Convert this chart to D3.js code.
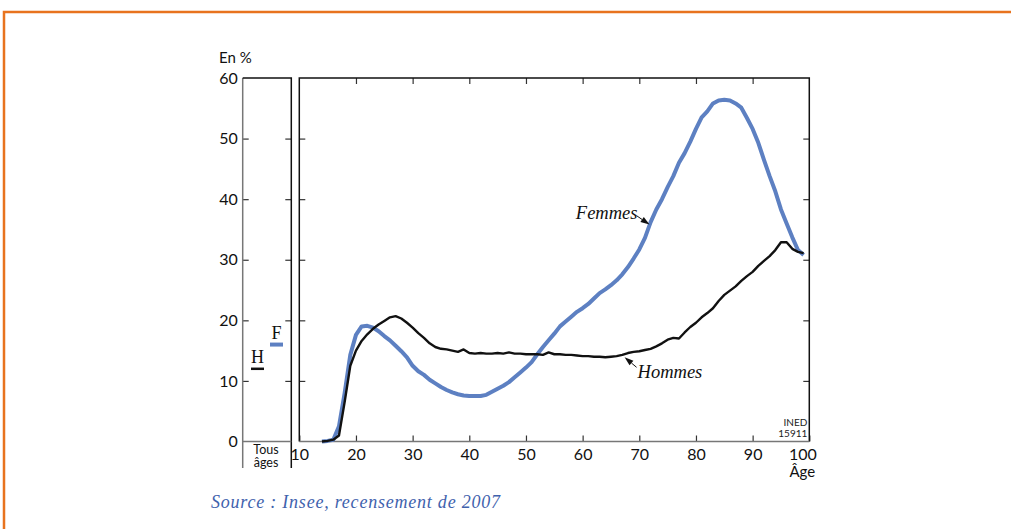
<!DOCTYPE html>
<html>
<head>
<meta charset="utf-8">
<script src="https://cdn.jsdelivr.net/npm/d3@7"></script>
<style>
  body { margin: 0; background: #fff; }
  svg { display: block; }
  .sans { font-family: "Lato", "DejaVu Sans", sans-serif; }
  .serif { font-family: "Liberation Serif", "DejaVu Serif", serif; }
</style>
</head>
<body>
<script>
// ages 14..99
const ages = d3.range(14, 100);

const femmes = [0, 0.1, 0.3, 2.5, 8, 14.3, 17.6, 19.0, 19.1, 18.8,
  18.2, 17.4, 16.7, 15.8, 14.9, 13.9, 12.5, 11.6, 11.0, 10.2,
  9.6, 9.0, 8.5, 8.1, 7.8, 7.6, 7.5, 7.5, 7.5, 7.7,
  8.2, 8.7, 9.2, 9.8, 10.6, 11.4, 12.2, 13.1, 14.4, 15.6,
  16.7, 17.8, 19.0, 19.8, 20.6, 21.4, 22.0, 22.7, 23.6, 24.5,
  25.1, 25.8, 26.6, 27.6, 28.8, 30.2, 31.7, 33.6, 36.2, 38.3,
  40.0, 42.0, 43.8, 46.0, 47.6, 49.5, 51.6, 53.5, 54.5, 55.8,
  56.3, 56.4, 56.3, 55.8, 55.1, 53.4, 51.6, 49.3, 46.5, 43.8,
  41.3, 38.3, 36.0, 33.7, 31.6, 30.8];

const hommes = [0, 0.1, 0.3, 1.0, 6.5, 12.5, 15.0, 16.6, 17.7, 18.6,
  19.3, 19.9, 20.5, 20.7, 20.3, 19.6, 18.8, 17.9, 17.1, 16.2,
  15.6, 15.3, 15.2, 15.0, 14.8, 15.2, 14.6, 14.5, 14.6, 14.5,
  14.5, 14.6, 14.5, 14.7, 14.5, 14.5, 14.4, 14.4, 14.4, 14.3,
  14.7, 14.4, 14.4, 14.3, 14.3, 14.2, 14.1, 14.1, 14.0, 14.0,
  13.9, 14.0, 14.1, 14.3, 14.6, 14.8, 14.9, 15.1, 15.3, 15.7,
  16.2, 16.8, 17.1, 17.0, 18.0, 18.9, 19.6, 20.5, 21.2, 22.0,
  23.2, 24.2, 24.9, 25.6, 26.5, 27.3, 28.0, 29.0, 29.8, 30.6,
  31.6, 32.9, 32.9, 31.8, 31.3, 31.1];

// "Tous âges" values
const allAgesKeys = ["H", "F"];
const allAgesValues = [12, 16];

const xTicks = [10, 20, 30, 40, 50, 60, 70, 80, 90, 100];
const yTicks = [0, 10, 20, 30, 40, 50, 60];

const blue = "#5d80c2";

const svg = d3.select("body").append("svg")
  .attr("width", 1011)
  .attr("height", 529);

// orange frame
svg.append("path")
  .attr("d", "M4,529 V12 H1011")
  .attr("fill", "none")
  .attr("stroke", "#e8731e")
  .attr("stroke-width", 2.5);

const x = d3.scaleLinear().domain([10, 100]).range([299.3, 809.3]);
const y = d3.scaleLinear().domain([0, 60]).range([441.5, 78]);
const leftL = 242.7, leftR = 291.3;

// main axes with inward ticks
const gb = svg.append("g").attr("class", "sans")
  .attr("transform", `translate(0,${y(0)})`)
  .call(d3.axisBottom(x).tickValues(xTicks).tickSize(-6).tickPadding(7));
gb.selectAll("text").attr("dx", d => d === 100 ? -7 : 0);

svg.append("g")
  .attr("transform", `translate(0,${y(60)})`)
  .call(d3.axisTop(x).tickValues(xTicks.slice(1, -1)).tickSize(-6).tickFormat(""));

svg.append("g")
  .attr("transform", `translate(${x(10)},0)`)
  .call(d3.axisLeft(y).tickValues(yTicks.slice(1, -1)).tickSize(-6).tickFormat(""));

svg.append("g")
  .attr("transform", `translate(${x(100)},0)`)
  .call(d3.axisRight(y).tickValues(yTicks.slice(1, -1)).tickSize(-6).tickFormat(""));

// left panel (Tous âges)
const gll = svg.append("g").attr("class", "sans")
  .attr("transform", `translate(${leftL},0)`)
  .call(d3.axisLeft(y).tickValues(yTicks).tickSize(-6).tickPadding(5)
    .tickFormat(d3.format("d")));
gll.selectAll(".tick line").filter(d => d === 0 || d === 60).remove();

svg.append("g")
  .attr("transform", `translate(${leftR},0)`)
  .call(d3.axisRight(y).tickValues(yTicks.slice(1, -1)).tickSize(-6).tickFormat(""));

svg.selectAll(".domain").remove();
svg.selectAll(".tick line").attr("stroke", "#333").attr("stroke-width", 1.2);
svg.selectAll(".tick text").attr("font-size", 16).attr("fill", "#111");

// frame lines
const frame = svg.append("g").attr("fill", "none").attr("stroke-width", 1.5);
frame.append("path").attr("stroke", "#111")
  .attr("d", `M${x(10)},${y(0)} V${y(60)} H${x(100)} V${y(0)}`);
frame.append("path").attr("stroke", "#777")
  .attr("d", `M${x(10)},${y(0)} H${x(100)}`);
frame.append("path").attr("stroke", "#777")
  .attr("d", `M${leftL},468 V${y(60)}`);
frame.append("path").attr("stroke", "#111")
  .attr("d", `M${leftL},${y(60)} H${leftR} V468`);
frame.append("path").attr("stroke", "#777")
  .attr("d", `M${leftL},${y(0)} H${leftR}`);

// labels
svg.append("text").attr("class", "sans")
  .attr("x", 219).attr("y", 63).attr("font-size", 15).attr("fill", "#111")
  .text("En %");
svg.append("text").attr("class", "sans")
  .attr("x", x(100) - 7).attr("y", 477).attr("text-anchor", "middle")
  .attr("font-size", 15).attr("fill", "#111")
  .text("Âge");
svg.append("text").attr("class", "sans")
  .attr("x", 266).attr("y", 454).attr("text-anchor", "middle")
  .attr("font-size", 12.5).attr("fill", "#111").text("Tous");
svg.append("text").attr("class", "sans")
  .attr("x", 266).attr("y", 467).attr("text-anchor", "middle")
  .attr("font-size", 12.5).attr("fill", "#111").text("âges");

svg.append("text").attr("class", "sans")
  .attr("x", x(100) - 2).attr("y", 426).attr("text-anchor", "end")
  .attr("font-size", 10).attr("fill", "#222").text("INED");
svg.append("text").attr("class", "sans")
  .attr("x", x(100) - 2).attr("y", 437).attr("text-anchor", "end")
  .attr("font-size", 10).attr("fill", "#222").text("15911");

// all-ages marks
const px = d3.scalePoint().domain(allAgesKeys).range([257.5, 276.5]);
const allAges = allAgesKeys.map((k, i) => ({ key: k, value: allAgesValues[i] }));
svg.append("g").selectAll("line").data(allAges).join("line")
  .attr("x1", d => px(d.key) - 6.5).attr("x2", d => px(d.key) + 6.5)
  .attr("y1", d => y(d.value)).attr("y2", d => y(d.value))
  .attr("stroke", d => d.key === "H" ? "#111" : blue)
  .attr("stroke-width", d => d.key === "H" ? 2.5 : 4);
svg.append("g").selectAll("text").data(allAges).join("text")
  .attr("class", "serif")
  .attr("x", d => px(d.key)).attr("y", d => y(d.value) - 6)
  .attr("text-anchor", "middle").attr("font-size", 18).attr("fill", "#111")
  .text(d => d.key);

// curves
const line = d3.line().x((d, i) => x(ages[i])).y(d => y(d));
svg.append("path").datum(femmes)
  .attr("d", line)
  .attr("fill", "none").attr("stroke", blue).attr("stroke-width", 4)
  .attr("stroke-linejoin", "round");
svg.append("path").datum(hommes)
  .attr("d", line)
  .attr("fill", "none").attr("stroke", "#111").attr("stroke-width", 2.4)
  .attr("stroke-linejoin", "round");

// annotations
const notes = [
  { label: "Femmes", age: 71.8, value: 35.8, tail: [-13, -9], text: [-12, -6], anchor: "end" },
  { label: "Hommes", age: 67.4, value: 13.9, tail: [12, 10], text: [13, 21], anchor: "start" }
];
notes.forEach(n => {
  const tx = x(n.age), ty = y(n.value);
  const ex = tx + n.tail[0], ey = ty + n.tail[1];
  const len = Math.hypot(n.tail[0], n.tail[1]);
  const ux = n.tail[0] / len, uy = n.tail[1] / len;
  const bx = tx + ux * 9, by = ty + uy * 9;
  svg.append("path")
    .attr("d", `M${ex},${ey} L${bx},${by}`)
    .attr("stroke", "#111").attr("stroke-width", 1);
  svg.append("path")
    .attr("d", `M${tx},${ty} L${bx - uy * 3},${by + ux * 3} L${bx + uy * 3},${by - ux * 3} Z`)
    .attr("fill", "#111");
  svg.append("text").attr("class", "serif")
    .attr("x", tx + n.text[0]).attr("y", ty + n.text[1])
    .attr("text-anchor", n.anchor)
    .attr("font-size", 18.5).attr("font-style", "italic").attr("fill", "#111")
    .text(n.label);
});

// source
svg.append("text").attr("class", "serif")
  .attr("x", 211).attr("y", 508)
  .attr("font-size", 18).attr("font-style", "italic").attr("fill", "#3f62ad")
  .attr("textLength", 289).attr("lengthAdjust", "spacing")
  .text("Source : Insee, recensement de 2007");
</script>
</body>
</html>
